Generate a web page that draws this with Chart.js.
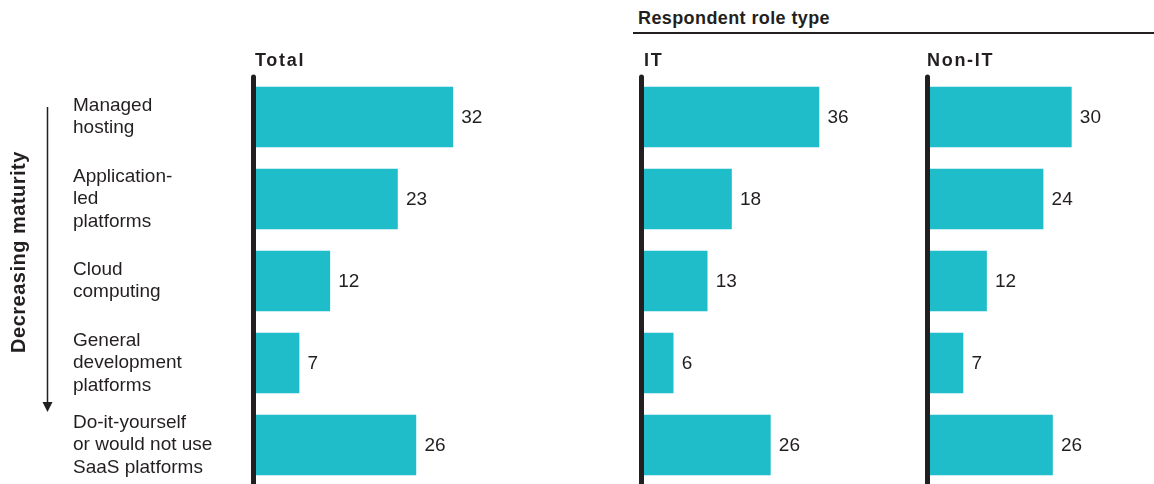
<!DOCTYPE html>
<html>
<head>
<meta charset="utf-8">
<script src="https://cdn.jsdelivr.net/npm/chart.js@4.4.1/dist/chart.umd.min.js"></script>
<style>
  html, body { margin: 0; padding: 0; background: #fff; overflow: hidden; width: 1154px; height: 484px; }
  body { position: relative; font-family: "Liberation Sans", Arial, sans-serif; color: #231f20; }
  canvas { position: absolute; top: 0; }
  #roleHeader {
    position: absolute; left: 638px; top: 8px;
    font-weight: bold; font-size: 18px; letter-spacing: 0.4px;
  }
  #roleLine { position: absolute; left: 633px; top: 32px; width: 521px; height: 2px; background: #231f20; }
</style>
</head>
<body>
<div id="roleHeader">Respondent role type</div>
<div id="roleLine"></div>
<canvas id="totalChart" width="502" height="530" style="left:0px"></canvas>
<canvas id="itChart" width="291" height="530" style="left:596px"></canvas>
<canvas id="nonItChart" width="252" height="530" style="left:890px"></canvas>
<script>
// Datos del gráfico
const categories = [
  ['Managed', 'hosting'],
  ['Application-', 'led', 'platforms'],
  ['Cloud', 'computing'],
  ['General', 'development', 'platforms'],
  ['Do-it-yourself', 'or would not use', 'SaaS platforms']
];
const totalValues = [32, 23, 12, 7, 26];
const itValues = [36, 18, 13, 6, 26];
const nonItValues = [30, 24, 12, 7, 26];
const panelTitles = ['Total', 'IT', 'Non-IT'];
const sideTitle = 'Decreasing maturity';

const FONT = '"Liberation Sans", Arial, Helvetica, sans-serif';
const INK = '#231f20';
const BAR = '#1fbdc9';

// Eje grueso, título del panel y etiquetas de valor
const panelPlugin = {
  id: 'panelDecor',
  beforeDatasetsDraw(chart, args, opts) {
    const { ctx, chartArea } = chart;
    ctx.save();
    ctx.strokeStyle = INK;
    ctx.lineWidth = 5;
    ctx.lineCap = 'round';
    ctx.beginPath();
    ctx.moveTo(chartArea.left - 2.5, 77);
    ctx.lineTo(chartArea.left - 2.5, chart.height);
    ctx.stroke();

    ctx.fillStyle = INK;
    ctx.font = 'bold 18px ' + FONT;
    ctx.letterSpacing = '1.7px';
    ctx.textAlign = 'left';
    ctx.textBaseline = 'alphabetic';
    ctx.fillText(opts.title, chartArea.left + (opts.titleDx || 0), 66);
    ctx.restore();
  },
  afterDatasetsDraw(chart) {
    const { ctx } = chart;
    const meta = chart.getDatasetMeta(0);
    const values = chart.data.datasets[0].data;
    ctx.save();
    ctx.fillStyle = INK;
    ctx.font = '19px ' + FONT;
    ctx.textAlign = 'left';
    ctx.textBaseline = 'middle';
    meta.data.forEach((bar, i) => {
      ctx.fillText(String(values[i]), bar.x + 8.5, bar.y + 1);
    });
    ctx.restore();
  }
};

// Flecha y texto girado a la izquierda
const sidePlugin = {
  id: 'sideDecor',
  afterDraw(chart) {
    const { ctx } = chart;
    ctx.save();
    ctx.fillStyle = INK;
    ctx.strokeStyle = INK;
    ctx.translate(19, 252);
    ctx.rotate(-Math.PI / 2);
    ctx.font = 'bold 20px ' + FONT;
    ctx.letterSpacing = '0.5px';
    ctx.textAlign = 'center';
    ctx.textBaseline = 'middle';
    ctx.fillText(sideTitle, 0, 0);
    ctx.restore();

    ctx.save();
    ctx.strokeStyle = INK;
    ctx.fillStyle = INK;
    ctx.lineWidth = 1.5;
    ctx.beginPath();
    ctx.moveTo(47.5, 107);
    ctx.lineTo(47.5, 403);
    ctx.stroke();
    ctx.beginPath();
    ctx.moveTo(42.5, 402);
    ctx.lineTo(52.5, 402);
    ctx.lineTo(47.5, 412);
    ctx.closePath();
    ctx.fill();
    ctx.restore();
  }
};

function makePanel(canvasId, title, values, cfg) {
  const ctx = document.getElementById(canvasId).getContext('2d');
  return new Chart(ctx, {
    type: 'bar',
    data: {
      labels: categories,
      datasets: [{
        data: values,
        backgroundColor: BAR,
        borderWidth: 0,
        barThickness: 60
      }]
    },
    options: {
      indexAxis: 'y',
      responsive: false,
      animation: false,
      layout: { padding: { top: 76, bottom: 44, left: cfg.padLeft, right: 0 } },
      plugins: {
        legend: { display: false },
        tooltip: { enabled: false },
        title: { display: false },
        panelDecor: { title: title, titleDx: cfg.titleDx }
      },
      scales: {
        x: { display: false, min: 0, max: cfg.max },
        y: {
          display: cfg.showLabels,
          grid: { display: false },
          border: { display: false },
          afterFit: cfg.showLabels ? (scale) => { scale.width = 183; } : undefined,
          ticks: {
            autoSkip: false,
            crossAlign: 'far',
            color: INK,
            font: { family: FONT, size: 19, lineHeight: 1.18 }
          }
        }
      }
    },
    plugins: cfg.showLabels ? [panelPlugin, sidePlugin] : [panelPlugin]
  });
}

makePanel('totalChart', panelTitles[0], totalValues, { padLeft: 73, max: 40, showLabels: true, titleDx: -1 });
makePanel('itChart', panelTitles[1], itValues, { padLeft: 48, max: 50, showLabels: false, titleDx: 0 });
makePanel('nonItChart', panelTitles[2], nonItValues, { padLeft: 40, max: 45, showLabels: false, titleDx: -3 });
</script>
</body>
</html>
